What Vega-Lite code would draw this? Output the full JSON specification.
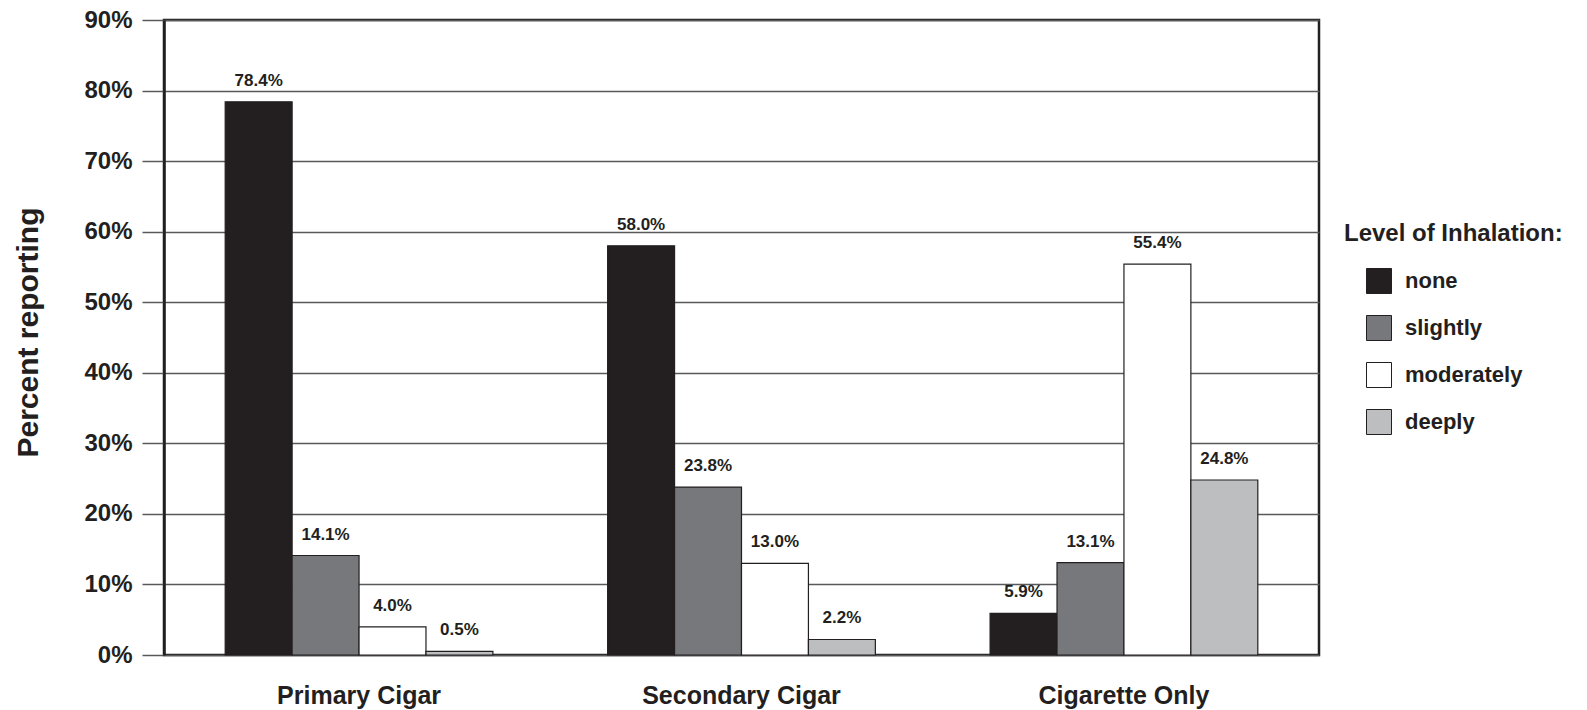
{
  "$schema": "https://vega.github.io/schema/vega-lite/v6.json",
  "autosize": {"type": "none"},
  "width": 1155,
  "height": 635,
  "padding": {"left": 164, "top": 20, "right": 268, "bottom": 55},
  "background": "white",
  "config": {
    "font": "Liberation Sans",
    "view": {"stroke": "#231f20", "strokeWidth": 2.5},
    "axis": {"labelFont": "Liberation Sans", "titleFont": "Liberation Sans", "labelColor": "#231f20", "titleColor": "#231f20"},
    "legend": {"labelFont": "Liberation Sans", "titleFont": "Liberation Sans"}
  },
  "data": {
    "values": [
      {"type": "Primary Cigar", "level": "none", "pct": 78.4},
      {"type": "Primary Cigar", "level": "slightly", "pct": 14.1},
      {"type": "Primary Cigar", "level": "moderately", "pct": 4.0},
      {"type": "Primary Cigar", "level": "deeply", "pct": 0.5},
      {"type": "Secondary Cigar", "level": "none", "pct": 58.0},
      {"type": "Secondary Cigar", "level": "slightly", "pct": 23.8},
      {"type": "Secondary Cigar", "level": "moderately", "pct": 13.0},
      {"type": "Secondary Cigar", "level": "deeply", "pct": 2.2},
      {"type": "Cigarette Only", "level": "none", "pct": 5.9},
      {"type": "Cigarette Only", "level": "slightly", "pct": 13.1},
      {"type": "Cigarette Only", "level": "moderately", "pct": 55.4},
      {"type": "Cigarette Only", "level": "deeply", "pct": 24.8}
    ]
  },
  "transform": [{"calculate": "format(datum.pct, '.1f') + '%'", "as": "lbl"}],
  "encoding": {
    "x": {
      "field": "type", "type": "nominal",
      "sort": ["Primary Cigar", "Secondary Cigar", "Cigarette Only"],
      "scale": {"paddingInner": 0.3, "paddingOuter": 0.16},
      "axis": {
        "title": null, "labelAngle": 0, "ticks": false, "tickSize": 0, "domain": false,
        "labelFontSize": 25, "labelFontWeight": "bold", "labelBaseline": "middle", "labelPadding": 40,
        "labelLimit": 400
      }
    },
    "xOffset": {
      "field": "level", "type": "nominal",
      "sort": ["none", "slightly", "moderately", "deeply"]
    }
  },
  "layer": [
    {
      "mark": {"type": "bar", "stroke": "#231f20", "strokeWidth": 1.2},
      "encoding": {
        "y": {
          "field": "pct", "type": "quantitative",
          "scale": {"domain": [0, 90], "nice": false},
          "axis": {
            "values": [0, 10, 20, 30, 40, 50, 60, 70, 80, 90],
            "labelExpr": "datum.value + '%'",
            "title": "Percent reporting",
            "titleFontSize": 30, "titleFontWeight": "bold",
            "titleX": -136, "titleY": 312, "titleAngle": -90, "titleAlign": "center", "titleBaseline": "middle",
            "labelFontSize": 24, "labelFontWeight": "bold", "labelPadding": 10,
            "tickSize": 22, "tickColor": "#58595b", "tickWidth": 1.5,
            "grid": true, "gridColor": "#58595b", "gridWidth": 1.5, "gridOpacity": 1,
            "domainColor": "#231f20", "domainWidth": 2.5
          }
        },
        "color": {
          "field": "level", "type": "nominal",
          "sort": ["none", "slightly", "moderately", "deeply"],
          "scale": {"domain": ["none", "slightly", "moderately", "deeply"], "range": ["#231f20", "#77787b", "#ffffff", "#bcbec0"]},
          "legend": {
            "title": "Level of Inhalation:",
            "orient": "none", "legendX": 1180, "legendY": 202,
            "titleFontSize": 24, "titleFontWeight": "bold", "titleColor": "#231f20", "titlePadding": 22,
            "titleLimit": 400, "labelLimit": 300,
            "symbolType": "square", "symbolSize": 625, "symbolStrokeColor": "#231f20", "symbolStrokeWidth": 1,
            "symbolOffset": 22, "labelOffset": 13,
            "labelFontSize": 22, "labelFontWeight": "bold", "labelColor": "#231f20",
            "rowPadding": 17
          }
        }
      }
    },
    {
      "mark": {"type": "rule", "color": "#231f20", "strokeWidth": 3},
      "encoding": {"y": {"datum": 0}}
    },
    {
      "mark": {"type": "text", "fontSize": 17, "fontWeight": "bold", "color": "#231f20", "baseline": "middle", "dy": -21},
      "encoding": {
        "y": {"field": "pct", "type": "quantitative"},
        "text": {"field": "lbl", "type": "nominal"}
      }
    }
  ]
}
